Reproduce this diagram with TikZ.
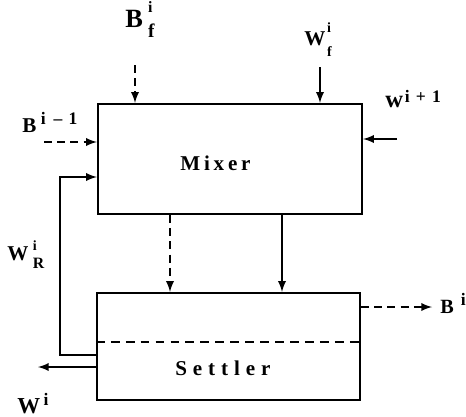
\documentclass[tikz,border=0pt]{standalone}
\usepackage{amsmath}
\usepackage{fontspec}
\setmainfont{Liberation Serif}
\newfontfamily\mixerfont[LetterSpace=18]{Liberation Serif}
\newfontfamily\settlerfont[LetterSpace=28]{Liberation Serif}
\usepackage{tikz}

% base letter with a raised index over a lowered index
\newcommand{\twoscript}[4]{\rlap{\raisebox{#1}{#3}}\raisebox{#2}{#4}}
\newcommand{\fs}[1]{\fontsize{#1}{#1}\selectfont}

\tikzset{
  unit/.style={draw, line width=1.3pt, inner sep=0pt},
  flow/.style={line width=1.1pt, -latex},
  dflow/.style={flow, dash pattern=on 4.5pt off 3pt},
  tag/.style={font=\bfseries, inner sep=0pt, anchor=base west}
}

\begin{document}
\begin{tikzpicture}[x=0.02cm,y=-0.02cm]
		\useasboundingbox (0,0) rectangle (466,416);
		\node[unit, minimum width=5.28cm, minimum height=2.2cm] (mixer) at (230,159) {}; % Mixer box
		\node[unit, minimum width=5.26cm, minimum height=2.14cm] (settler) at (228.5,346.5) {};
		\node[tag] (mixertext) at (180,170) {\mixerfont\bfseries\fs{12}Mixer};
		\node[tag] (settlertext) at (175,375) {\settlerfont\bfseries\fs{12}Settler};
		
		\coordinate (interface) at (0,342);
		\draw[line width=1.1pt, dash pattern=on 5pt off 3.5pt] (interface -| settler.west) -- (interface -| settler.east);
		
		\coordinate (bfin) at (135,65);
		\coordinate (wfin) at (320,67);
		\coordinate (wnext) at (397,139);
		\coordinate (bprev) at (44,142);
		\coordinate (loopup) at (60,177);
		\coordinate (loopdown) at (60,355);
		\coordinate (wout) at (38,367);
		\coordinate (bout) at (432,307);
		\coordinate (dsplit) at (170,0);
		\coordinate (ssplit) at (282,0);
		
		\draw[dflow] (bfin) -- (bfin |- mixer.north);
		\draw[flow] (wfin) -- (wfin |- mixer.north);
		\draw[flow] (wnext) -- (wnext -| mixer.east);
		\draw[dflow] (bprev) -- (bprev -| mixer.west);
		\draw[flow] (loopdown -| settler.west) -- (loopdown) -- (loopup) -- (loopup -| mixer.west);
		\draw[flow] (wout -| settler.west) -- (wout);
		\draw[dflow] (bout -| settler.east) -- (bout);
		\draw[dflow] (dsplit |- mixer.south) -- (dsplit |- settler.north);
		\draw[flow] (ssplit |- mixer.south) -- (ssplit |- settler.north);
		
		\node[tag] (bflabel) at (125,27) {\fs{15}B\kern3pt\twoscript{8pt}{-6pt}{\fs{9}i}{\fs{11}f}};
		\node[tag] (wflabel) at (304,45) {\fs{12}W\kern1pt\twoscript{7.4pt}{-6.8pt}{\fs{8}i}{\fs{8}f}};
		\node[tag] (wnextlabel) at (385,107) {\fs{14}w\kern1pt\raisebox{2.3pt}{\fs{10}i\kern3.5pt+\kern3.5pt1}};
		\node[tag] (bprevlabel) at (22,132) {\fs{12}B\kern2.5pt\raisebox{4pt}{\fs{10}i\kern4.5pt--\kern3.5pt1}};
		\node[tag] (wrlabel) at (7,260) {\fs{12}W\kern2.5pt\twoscript{5.5pt}{-5pt}{\fs{8}i}{\fs{9}R}};
		\node[tag] (woutlabel) at (17,413) {\fs{13}W\kern2pt\raisebox{4.5pt}{\fs{10}i}};
		\node[tag] (boutlabel) at (440,313) {\fs{11.5}B\kern4pt\raisebox{4pt}{\fs{10}i}};
	\end{tikzpicture}
\end{document}
